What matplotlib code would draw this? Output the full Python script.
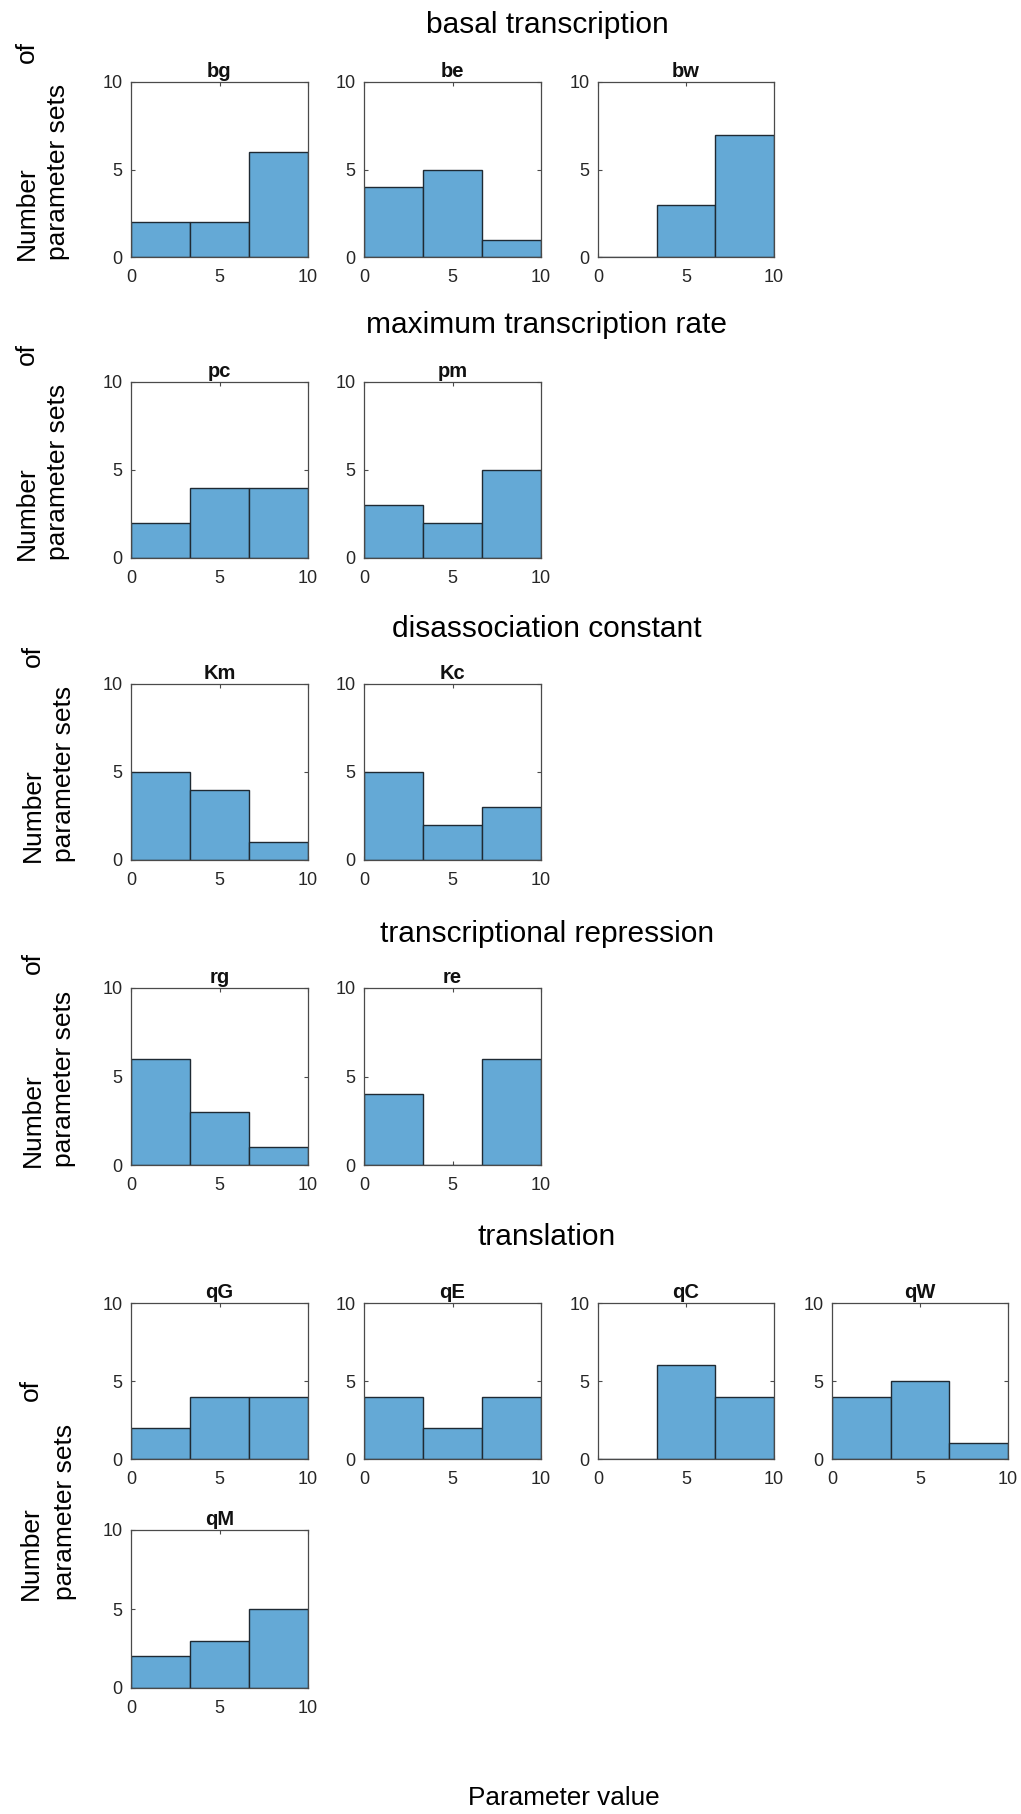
import matplotlib
matplotlib.use("Agg")
import matplotlib.pyplot as plt

plt.rcParams['font.family'] = ['Liberation Sans', 'DejaVu Sans']

# ---------------- data ----------------
bin_edges = [0, 10/3, 20/3, 10]

sec_titles = ["basal transcription", "maximum transcription rate",
              "disassociation constant", "transcriptional repression", "translation"]

basal_names = ["bg", "be", "bw"]
basal_counts = [[2, 2, 6], [4, 5, 1], [0, 3, 7]]

maxrate_names = ["pc", "pm"]
maxrate_counts = [[2, 4, 4], [3, 2, 5]]

dissoc_names = ["Km", "Kc"]
dissoc_counts = [[5, 4, 1], [5, 2, 3]]

repress_names = ["rg", "re"]
repress_counts = [[6, 3, 1], [4, 0, 6]]

transl_names = ["qG", "qE", "qC", "qW", "qM"]
transl_counts = [[2, 4, 4], [4, 2, 4], [0, 6, 4], [4, 5, 1], [2, 3, 5]]

y_ticks = [0, 5, 10]
x_ticks = [0, 5, 10]

# ---------------- figure ----------------
W, H = 1021, 1814
fig = plt.figure(figsize=(W / 100, H / 100), dpi=100)
fig.patch.set_facecolor('white')

FACE = '#64a9d6'
EDGE = '#1f2a33'
AXC = '#4a4a4a'
TXT = '#262626'


def add_ax(l, r, t, b):
    return fig.add_axes([l / W, 1 - b / H, (r - l) / W, (b - t) / H])


def hist_panel(ax, name, counts):
    lefts = bin_edges[:-1]
    widths = [bin_edges[i + 1] - bin_edges[i] for i in range(len(counts))]
    ax.bar(lefts, counts, width=widths, align='edge', color=FACE,
           edgecolor=EDGE, linewidth=1.0, zorder=2)
    ax.set_xlim(0, 10)
    ax.set_ylim(0, 10)
    ax.set_xticks(x_ticks)
    ax.set_yticks(y_ticks)
    ax.tick_params(direction='in', length=3, width=0.8, color=AXC,
                   labelsize=13, labelcolor=TXT, top=True, right=True)
    ax.tick_params(axis='x', pad=8.5)
    ax.tick_params(axis='y', pad=6)
    for s in ax.spines.values():
        s.set_color(AXC)
        s.set_linewidth(0.9)
    ax.set_title(name, fontsize=14.5, fontweight='bold', pad=3.5, color='#111111')


def ylabel_block(x_num, x_par, y_bottom, y_of):
    fig.text(x_num / W, 1 - y_bottom / H, "Number", rotation=90, fontsize=19,
             ha='right', va='bottom', color='black')
    fig.text(x_par / W, 1 - y_bottom / H, "parameter sets", rotation=90,
             fontsize=19, ha='right', va='bottom', color='black')
    fig.text(x_num / W, 1 - y_of / H, "of", rotation=90, fontsize=19,
             ha='right', va='center', color='black')


cols = [(131, 308), (364, 541), (598, 774), (832, 1008)]
TITLE_X = 547
TITLE_FS = 21.5

# Row 1: basal transcription
fig.text(TITLE_X / W, 1 - 25 / H, sec_titles[0], fontsize=TITLE_FS, ha='center', va='center')
for i, (nm, c) in enumerate(zip(basal_names, basal_counts)):
    l, r = cols[i]
    hist_panel(add_ax(l, r, 82, 257), nm, c)
ylabel_block(39, 70, 260, 52)

# Row 2: maximum transcription rate
fig.text(TITLE_X / W, 1 - 325 / H, sec_titles[1], fontsize=TITLE_FS, ha='center', va='center')
for i, (nm, c) in enumerate(zip(maxrate_names, maxrate_counts)):
    l, r = cols[i]
    hist_panel(add_ax(l, r, 382, 558), nm, c)
ylabel_block(39, 70, 560, 354)

# Row 3: disassociation constant
fig.text(TITLE_X / W, 1 - 629 / H, sec_titles[2], fontsize=TITLE_FS, ha='center', va='center')
for i, (nm, c) in enumerate(zip(dissoc_names, dissoc_counts)):
    l, r = cols[i]
    hist_panel(add_ax(l, r, 684, 860), nm, c)
ylabel_block(45, 76, 862, 656)

# Row 4: transcriptional repression
fig.text(TITLE_X / W, 1 - 934 / H, sec_titles[3], fontsize=TITLE_FS, ha='center', va='center')
for i, (nm, c) in enumerate(zip(repress_names, repress_counts)):
    l, r = cols[i]
    hist_panel(add_ax(l, r, 988, 1165), nm, c)
ylabel_block(45, 76, 1167, 963)

# Row 5: translation
fig.text(TITLE_X / W, 1 - 1237 / H, sec_titles[4], fontsize=TITLE_FS, ha='center', va='center')
for i in range(4):
    l, r = cols[i]
    hist_panel(add_ax(l, r, 1303, 1459), transl_names[i], transl_counts[i])
l, r = cols[0]
hist_panel(add_ax(l, r, 1530, 1688), transl_names[4], transl_counts[4])
ylabel_block(43, 77, 1600, 1390)

fig.text(564 / W, 1 - 1798 / H, "Parameter value", fontsize=18.8,
         ha='center', va='center')

fig.savefig("out.png", dpi=100)
